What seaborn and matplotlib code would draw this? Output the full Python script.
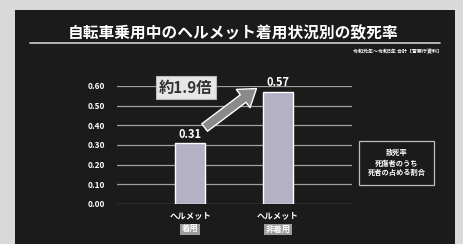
"""
Helmet use vs. fatality rate among cyclists (Japan, R1-R5 total).
"""
import numpy  as np
import pandas as pd
import matplotlib
matplotlib.use("Agg")
import matplotlib.pyplot as plt
import seaborn           as sns
from matplotlib.patches    import Rectangle
from matplotlib.transforms import blended_transform_factory

# ================================================================================
# Data
# ================================================================================
TITLE      = "自転車乗用中のヘルメット着用状況別の致死率"
SUBTITLE   = "令和元年～令和5年 合計【警察庁資料】"
CAT_TOP    = "ヘルメット"
categories = ["着用", "非着用"]
rates      = [0.31, 0.57]
ratio_text = "約1.9倍"
y_ticks    = [0.00, 0.10, 0.20, 0.30, 0.40, 0.50, 0.60]
legend_lines = ["致死率", "死傷者のうち", "死者の占める割合"]

df = pd.DataFrame({"cat": categories, "rate": rates})

# ================================================================================
# Style
# ================================================================================
sns.set_style("dark")
plt.rcParams["font.family"] = ["Noto Sans CJK JP", "DejaVu Sans"]

PANEL_BG = "#1b1b1b"
OUTER_BG = "#d9d9d9"
BAR_CLR  = "#b3b1c3"
GRID_CLR = "#a0a0a0"

fig = plt.figure(figsize=(4.63, 2.44), dpi=100)
fig.patch.set_facecolor(OUTER_BG)

# dark panel behind everything
fig.patches.append(Rectangle((0.032, 0.0), 0.951, 0.96, transform=fig.transFigure,
                             facecolor=PANEL_BG, edgecolor="none", zorder=-10))

ax = fig.add_axes([0.253, 0.164, 0.507, 0.484])
ax.set_facecolor("none")
ax.set_zorder(1)

sns.barplot(data=df, x="cat", y="rate", color=BAR_CLR, width=0.34,
            saturation=1, ax=ax, zorder=3)

ax.set_ylim(0, 0.6)
ax.set_xlim(-0.83, 1.84)
ax.set_yticks(y_ticks)
ax.set_yticklabels([f"{v:.2f}" for v in y_ticks], color="white",
                   fontsize=6, fontweight="bold")
ax.tick_params(axis="y", length=0, pad=9)
ax.tick_params(axis="x", length=0)
ax.set_xticklabels([])
ax.set_xlabel(""); ax.set_ylabel("")
ax.grid(axis="y", color=GRID_CLR, linewidth=0.9, zorder=1)
ax.grid(axis="x", visible=False)
for sp in ax.spines.values():
    sp.set_visible(False)
ax.set_axisbelow(True)

# value labels
for i, v in enumerate(rates):
    ax.text(i, v + 0.012, f"{v:.2f}", ha="center", va="bottom",
            color="white", fontsize=8, fontweight="bold")

# category labels (two lines, second one boxed)
trans = blended_transform_factory(ax.transData, ax.transAxes)
for i, c in enumerate(categories):
    ax.text(i, -0.06, CAT_TOP, transform=trans, ha="center", va="top",
            color="white", fontsize=6, fontweight="bold")
    ax.text(i, -0.18, c, transform=trans, ha="center", va="top",
            color="white", fontsize=6, fontweight="bold",
            bbox=dict(boxstyle="square,pad=0.15", fc="#9c9c9c", ec="none"))

# ratio box + arrow
ax.text(-0.05, rates[1] + 0.02, ratio_text, ha="center", va="center",
        color="#333333", fontsize=11, fontweight="bold", zorder=5,
        bbox=dict(boxstyle="square,pad=0.22", fc="#e6e6e6", ec="#bbbbbb", lw=0.8))
ax.annotate("", xy=(0.78, rates[1] + 0.025), xytext=(0.14, rates[0] + 0.07),
            arrowprops=dict(arrowstyle="simple,head_width=1.1,head_length=0.8,tail_width=0.45",
                            fc="#8a8a8a", ec="white", lw=1.0, mutation_scale=15),
            zorder=5)

# legend-like note box
fig.text(0.857, 0.333, "\n".join(legend_lines), ha="center", va="center",
         color="white", fontsize=5.2, fontweight="bold", linespacing=1.45,
         bbox=dict(boxstyle="square,pad=1.15", fc="none", ec="#bdbdbd", lw=0.9))

# title, rule and source
fig.text(0.503, 0.865, TITLE, ha="center", va="center", color="white",
         fontsize=11.3, fontweight="bold")
fig.lines.append(plt.Line2D([0.065, 0.95], [0.823, 0.823], transform=fig.transFigure,
                            color="#cfcfcf", linewidth=1.2))
fig.text(0.955, 0.787, SUBTITLE, ha="right", va="center", color="white",
         fontsize=3.6, fontweight="bold")

fig.savefig("out.png", dpi=100, facecolor=fig.get_facecolor())
